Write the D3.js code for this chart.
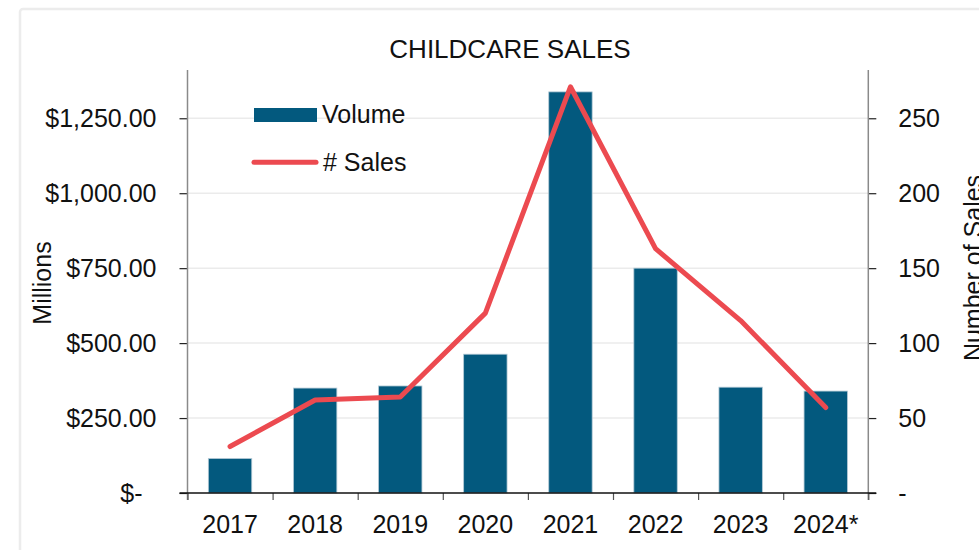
<!DOCTYPE html>
<html>
<head>
<meta charset="utf-8">
<script src="https://cdn.jsdelivr.net/npm/d3@7/dist/d3.min.js"></script>
<style>
  html, body { margin: 0; padding: 0; background: #fff; }
  svg { display: block; font-family: "Liberation Sans", Arial, Helvetica, sans-serif; }
</style>
</head>
<body>
<svg id="chart" width="979" height="550"></svg>
<script>
const categories = ["2017", "2018", "2019", "2020", "2021", "2022", "2023", "2024*"];
const volume = [115, 350, 357, 463, 1338, 750, 353, 340];   // $ millions
const sales = [31, 62, 64, 120, 271, 163, 115, 57];         // number of sales
const leftTicks = [0, 250, 500, 750, 1000, 1250];
const rightTicks = [0, 50, 100, 150, 200, 250];

const barColor = "#03597e";
const lineColor = "#ec4a50";
const fontSize = 25;

const svg = d3.select("#chart");

// frame
svg.append("rect").attr("x", 20).attr("y", 9).attr("width", 1000).attr("height", 600)
  .attr("rx", 3).attr("fill", "#fff").attr("stroke", "#ececec").attr("stroke-width", 2.5);

const x0 = 187.5, x1 = 868.3, yBase = 493, yTop = 70;

const x = d3.scaleBand().domain(categories).range([x0, x1]).paddingInner(0.49).paddingOuter(0.245);
const yL = d3.scaleLinear().domain([0, 1411]).range([yBase, yTop]);
const yR = d3.scaleLinear().domain([0, 282.2]).range([yBase, yTop]);

// gridlines
svg.append("g").selectAll("line").data(leftTicks.filter(d => d > 0)).join("line")
  .attr("x1", x0).attr("x2", x1).attr("y1", d => yL(d)).attr("y2", d => yL(d))
  .attr("stroke", "#ebebeb").attr("stroke-width", 1.5);

// bars
svg.append("g").selectAll("rect").data(volume).join("rect")
  .attr("x", (d, i) => x(categories[i]))
  .attr("width", x.bandwidth())
  .attr("y", d => yL(d))
  .attr("height", d => yL(0) - yL(d))
  .attr("fill", barColor)
  .attr("stroke", "#b3c9d5").attr("stroke-width", 0.8);

// left axis
const fmtL = d => d === 0 ? "$-" : "$" + d3.format(",.2f")(d);
const gL = svg.append("g").attr("transform", `translate(${x0},0)`)
  .call(d3.axisLeft(yL).tickValues(leftTicks).tickFormat(fmtL).tickSize(8).tickSizeOuter(0).tickPadding(23));
gL.select(".domain").remove();
gL.selectAll(".tick line").attr("stroke", "#222").attr("stroke-width", 1.2);
gL.selectAll(".tick text").attr("font-size", fontSize).attr("fill", "#111").attr("font-family", null);
gL.selectAll(".tick").filter(d => d === 0).select("text").attr("x", -45);

// right axis
const fmtR = d => d === 0 ? "-" : d3.format("d")(d);
const gR = svg.append("g").attr("transform", `translate(${x1},0)`)
  .call(d3.axisRight(yR).tickValues(rightTicks).tickFormat(fmtR).tickSize(8).tickSizeOuter(0).tickPadding(22));
gR.select(".domain").remove();
gR.selectAll(".tick line").attr("stroke", "#222").attr("stroke-width", 1.2);
gR.selectAll(".tick text").attr("font-size", fontSize).attr("fill", "#111").attr("font-family", null);

// vertical axis lines
svg.append("line").attr("x1", x0).attr("x2", x0).attr("y1", yTop).attr("y2", yBase + 7)
  .attr("stroke", "#8a8a8a").attr("stroke-width", 1.5);
svg.append("line").attr("x1", x1).attr("x2", x1).attr("y1", yTop).attr("y2", yBase + 7)
  .attr("stroke", "#8a8a8a").attr("stroke-width", 1.5);

// bottom tick marks at band boundaries
const xb = d3.scaleLinear().domain([0, categories.length]).range([x0, x1]);
const gB = svg.append("g").attr("transform", `translate(0,${yBase})`)
  .call(d3.axisBottom(xb).tickValues(d3.range(0, categories.length + 1)).tickFormat("").tickSize(7).tickSizeOuter(0));
gB.select(".domain").remove();
gB.selectAll(".tick line").attr("stroke", "#555").attr("stroke-width", 1.2);

// bottom labels
const gX = svg.append("g").attr("transform", `translate(0,${yBase})`)
  .call(d3.axisBottom(x).tickSize(0).tickPadding(22));
gX.select(".domain").remove();
gX.selectAll(".tick text").attr("font-size", fontSize).attr("fill", "#111").attr("font-family", null);

// baseline
svg.append("line").attr("x1", x0 - 8).attr("x2", x1 + 8).attr("y1", yBase).attr("y2", yBase)
  .attr("stroke", "#111").attr("stroke-width", 1.5);

// sales line
const line = d3.line().x((d, i) => x(categories[i]) + x.bandwidth() / 2).y(d => yR(d));
svg.append("path").datum(sales).attr("d", line)
  .attr("fill", "none").attr("stroke", lineColor).attr("stroke-width", 5)
  .attr("stroke-linejoin", "round").attr("stroke-linecap", "round");

// title
svg.append("text").attr("x", 510).attr("y", 58).attr("text-anchor", "middle")
  .attr("font-size", 26).attr("fill", "#111").text("CHILDCARE SALES");

// axis titles
svg.append("text").attr("transform", "translate(51,283) rotate(-90)").attr("text-anchor", "middle")
  .attr("font-size", fontSize).attr("fill", "#111").text("Millions");
svg.append("text").attr("transform", "translate(982,268) rotate(-90)").attr("text-anchor", "middle")
  .attr("font-size", fontSize).attr("fill", "#111").text("Number of Sales");

// legend
const lg = svg.append("g");
lg.append("rect").attr("x", 254).attr("y", 108).attr("width", 63).attr("height", 14).attr("fill", barColor);
lg.append("text").attr("x", 322).attr("y", 122.5).attr("font-size", fontSize).attr("fill", "#111").text("Volume");
lg.append("line").attr("x1", 254).attr("x2", 316).attr("y1", 162.3).attr("y2", 162.3)
  .attr("stroke", lineColor).attr("stroke-width", 5).attr("stroke-linecap", "round");
lg.append("text").attr("x", 323).attr("y", 171).attr("font-size", fontSize).attr("fill", "#111").text("# Sales");
</script>
</body>
</html>
